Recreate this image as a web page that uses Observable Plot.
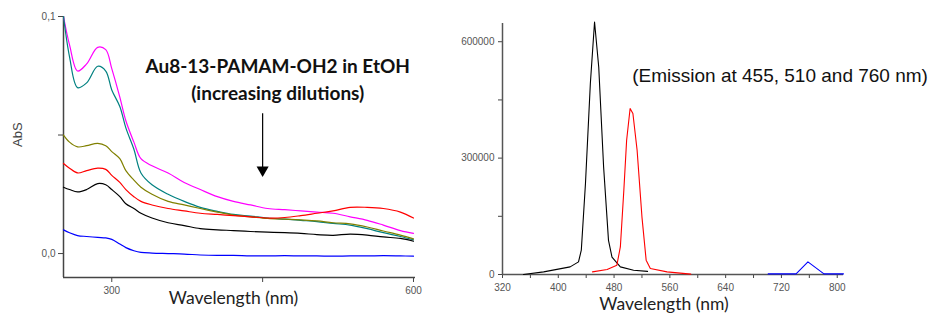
<!DOCTYPE html>
<html>
<head>
<meta charset="utf-8">
<script src="https://cdn.jsdelivr.net/npm/d3@7"></script>
<script src="https://cdn.jsdelivr.net/npm/@observablehq/plot@0.6"></script>
<style>
  html, body { margin: 0; padding: 0; background: #fff; }
  #wrap { position: relative; width: 935px; height: 320px; overflow: hidden; background: #fff; }
  #left { position: absolute; left: 0; top: 0; }
  #right { position: absolute; left: 440px; top: 0; }
</style>
</head>
<body>
<div id="wrap"><div id="left"></div><div id="right"></div></div>
<script>
// ---- Left panel: absorbance spectra ----
const absWavelength = [252, 258, 266, 275, 286, 294, 300, 308, 314, 322, 329, 340, 356, 372, 388, 405, 421, 438, 455, 472, 488, 504, 520, 537, 554, 570, 587, 600];
const absMagenta = [0.100, 0.088, 0.077, 0.080, 0.087, 0.086, 0.078, 0.066, 0.056, 0.047, 0.040, 0.037, 0.034, 0.030, 0.027, 0.024, 0.022, 0.0205, 0.019, 0.0185, 0.018, 0.0175, 0.017, 0.0155, 0.014, 0.012, 0.0097, 0.0085];
const absTeal = [0.100, 0.083, 0.070, 0.072, 0.079, 0.077, 0.069, 0.062, 0.053, 0.044, 0.034, 0.029, 0.025, 0.022, 0.0195, 0.0178, 0.0165, 0.0158, 0.015, 0.0145, 0.014, 0.0135, 0.0127, 0.012, 0.0105, 0.0088, 0.0072, 0.0058];
const absOlive = [0.050, 0.047, 0.045, 0.0455, 0.0465, 0.0455, 0.043, 0.040, 0.035, 0.031, 0.028, 0.025, 0.022, 0.0205, 0.019, 0.0175, 0.0162, 0.0155, 0.0148, 0.0145, 0.0142, 0.0138, 0.013, 0.0125, 0.0112, 0.0095, 0.0078, 0.0062];
const absRed = [0.038, 0.036, 0.034, 0.035, 0.036, 0.0355, 0.033, 0.030, 0.027, 0.024, 0.022, 0.0205, 0.019, 0.018, 0.017, 0.0165, 0.016, 0.0155, 0.015, 0.0152, 0.016, 0.017, 0.018, 0.0195, 0.0195, 0.019, 0.0175, 0.015];
const absBlack = [0.028, 0.027, 0.026, 0.027, 0.0295, 0.029, 0.027, 0.024, 0.021, 0.019, 0.017, 0.015, 0.013, 0.0118, 0.0105, 0.010, 0.0097, 0.0093, 0.009, 0.0088, 0.0085, 0.008, 0.0077, 0.0082, 0.0078, 0.007, 0.0064, 0.0052];
const absBlue = [0.010, 0.0088, 0.0076, 0.0072, 0.0068, 0.0066, 0.006, 0.004, 0.0025, 0.0012, 0.0005, 0.0002, 0.0, -0.0002, -0.0006, -0.0008, -0.0008, -0.001, -0.001, -0.0009, -0.001, -0.001, -0.0011, -0.001, -0.001, -0.0009, -0.001, -0.0011];
const absSeriesNames = ["magenta", "teal", "olive", "red", "black", "blue"];
const absSeriesColors = ["#e23be2", "#3a9f9f", "#a99b44", "#ee3434", "#333333", "#3838d4"];
const absYTicks = [0, 0.05, 0.1];
const absYTickLabels = ["0,0", "", "0,1"];
const absXTicks = [300, 450, 600];
const absXTickLabels = ["300", "", "600"];

// ---- Right panel: emission spectra ----
const emBlackWl = [350, 379, 417, 429, 433, 439, 446, 452, 458, 465, 472, 477, 489, 508, 528];
const emBlackI = [0, 6700, 19600, 32500, 62700, 235000, 493000, 651000, 535000, 277000, 88000, 45000, 19600, 11000, 8000];
const emRedWl = [449, 470, 484, 489, 494, 498, 503, 507, 513, 520, 526, 532, 556, 590];
const emRedI = [6700, 13000, 24000, 71000, 217000, 346000, 428000, 415000, 321000, 148000, 37000, 15500, 6700, 1000];
const emBlueWl = [701, 741, 758, 781, 809];
const emBlueI = [1500, 1500, 32500, 1500, 1500];
const emSeriesNames = ["black", "red", "blue"];
const emSeriesColors = ["#222222", "#f03c3c", "#4646ee"];
const emXTicks = [320, 360, 400, 440, 480, 520, 560, 600, 640, 680, 720, 760, 800];
const emXLabelTicks = [320, 400, 480, 560, 640, 720, 800];
const emYTicks = [0, 150000, 300000, 450000, 600000];
const emYLabelTicks = [0, 300000, 600000];

// build tables
const absData = [];
[absMagenta, absTeal, absOlive, absRed, absBlack, absBlue].forEach((arr, s) => {
  arr.forEach((v, i) => absData.push({series: absSeriesNames[s], wl: absWavelength[i], abs: v}));
});
const emData = [];
[[emBlackWl, emBlackI], [emRedWl, emRedI], [emBlueWl, emBlueI]].forEach(([w, v], s) => {
  w.forEach((x, i) => emData.push({series: emSeriesNames[s], wl: x, I: v[i]}));
});

const tickCol = "#555";
const left = Plot.plot({
  width: 432, height: 320,
  marginLeft: 63, marginRight: 17, marginTop: 16, marginBottom: 43,
  style: {fontFamily: "'Liberation Sans', Arial, sans-serif", fontSize: "10px", color: tickCol, background: "#fff"},
  x: {domain: [252, 602]},
  y: {domain: [-0.0101, 0.1]},
  color: {domain: absSeriesNames, range: absSeriesColors},
  marks: [
    Plot.axisY(absYTicks, {tickSize: 5, tickPadding: 3, tickFormat: (d, i) => absYTickLabels[i], label: null, stroke: "#444"}),
    Plot.axisX(absXTicks, {tickSize: 5, tickPadding: 4, tickFormat: (d, i) => absXTickLabels[i], label: null, stroke: "#444"}),
    Plot.ruleX([252], {stroke: "#444", strokeWidth: 1.5}),
    Plot.ruleY([-0.0101], {stroke: "#444", strokeWidth: 1.5}),
    Plot.line(absData, {x: "wl", y: "abs", z: "series", stroke: "series", strokeWidth: 1.2, curve: "catmull-rom"}),
    Plot.link([{x: 450, y1: 0.0592, y2: 0.036}], {x1: "x", x2: "x", y1: "y1", y2: "y2", stroke: "#000", strokeWidth: 1.2}),
    Plot.dot([{x: 450, y: 0.0352}], {x: "x", y: "y", symbol: "triangle", r: 4.5, rotate: 180, fill: "#000", stroke: "none"}),
    Plot.text(["Au8-13-PAMAM-OH2 in EtOH"], {x: 465, y: 0.0786, text: d => d, fontSize: 19, fontWeight: "bold", fontFamily: "Lato, 'Open Sans', sans-serif", fill: "#111"}),
    Plot.text(["(increasing dilutions)"], {x: 465, y: 0.0672, text: d => d, fontSize: 19, fontWeight: "bold", fontFamily: "Lato, 'Open Sans', sans-serif", fill: "#111"}),
    Plot.text(["AbS"], {frameAnchor: "left", dx: -46, rotate: -90, text: d => d, fontSize: 13, fill: "#444"}),
    Plot.text(["Wavelength (nm)"], {frameAnchor: "bottom", dy: 26, dx: -6, text: d => d, fontSize: 17.5, fontFamily: "Lato, 'Open Sans', sans-serif", fill: "#222"})
  ]
});
document.getElementById("left").appendChild(left);

const right = Plot.plot({
  width: 495, height: 320,
  marginLeft: 62, marginRight: 92, marginTop: 23, marginBottom: 46,
  style: {fontFamily: "'Liberation Sans', Arial, sans-serif", fontSize: "10px", color: tickCol, background: "transparent", overflow: "visible"},
  x: {domain: [320, 809]},
  y: {domain: [0, 647000]},
  color: {domain: emSeriesNames, range: emSeriesColors},
  marks: [
    Plot.axisY(emYTicks, {tickSize: 4, tickPadding: 4, tickFormat: d => emYLabelTicks.includes(d) ? String(d) : "", label: null, stroke: "#444"}),
    Plot.axisX(emXTicks, {tickSize: 4, tickPadding: 5, tickFormat: d => emXLabelTicks.includes(d) ? String(d) : "", label: null, stroke: "#444"}),
    Plot.ruleX([320], {stroke: "#555", strokeWidth: 1.5}),
    Plot.ruleY([0], {stroke: "#555", strokeWidth: 1.5}),
    Plot.line(emData, {x: "wl", y: "I", z: "series", stroke: "series", strokeWidth: 1.1}),
    Plot.text(["(Emission at 455, 510 and 760 nm)"], {x: 506, y: 511500, text: d => d, textAnchor: "start", fontSize: 19, fontFamily: "'Liberation Sans', Arial, sans-serif", fill: "#111"}),
    Plot.text(["Wavelength (nm)"], {frameAnchor: "bottom", dy: 35, dx: -9, text: d => d, fontSize: 17.5, fontFamily: "Lato, 'Open Sans', sans-serif", fill: "#222"})
  ]
});
document.getElementById("right").appendChild(right);
</script>
</body>
</html>
